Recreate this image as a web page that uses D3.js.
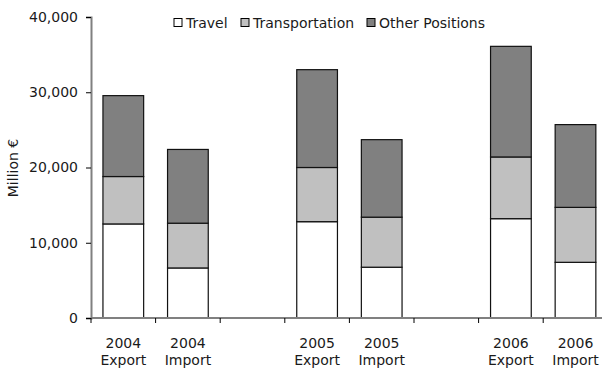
<!DOCTYPE html>
<html>
<head>
<meta charset="utf-8">
<script src="https://cdnjs.cloudflare.com/ajax/libs/d3/7.8.5/d3.min.js"></script>
<style>
  html, body { margin: 0; padding: 0; background: #fff; }
  svg { display: block; }
  text { font-family: "DejaVu Sans", sans-serif; fill: #1a1a1a; }
</style>
</head>
<body>
<svg id="chart" width="602" height="369"></svg>
<script>
// Category slots along the x axis (empty slots separate the years)
const categories = ["2004|Export", "2004|Import", "gap1", "2005|Export", "2005|Import", "gap2", "2006|Export", "2006|Import"];
// Services trade, million euro, per component
const travel         = [12500, 6650, null, 12800, 6750, null, 13200, 7400];
const transportation = [6300, 5950, null, 7200, 6650, null, 8200, 7300];
const otherPositions = [10750, 9800, null, 13000, 10300, null, 14700, 11000];
const seriesNames  = ["Travel", "Transportation", "Other Positions"];
const seriesColors = ["#ffffff", "#c0c0c0", "#808080"];
const yTicks = [0, 10000, 20000, 30000, 40000];

const svg = d3.select("#chart");
const margin = { left: 91, top: 17, bottom: 318 };
const step = 64.6;
const fs = "14px";

const x = d3.scaleBand()
  .domain(categories)
  .range([margin.left, margin.left + step * categories.length])
  .padding(0);
const barW = step * 0.63;

const y = d3.scaleLinear().domain([0, 40000]).range([margin.bottom, margin.top]);

// Stack the three components for each non-empty slot
const rows = categories.map((c, i) => ({
  key: c,
  "Travel": travel[i] || 0,
  "Transportation": transportation[i] || 0,
  "Other Positions": otherPositions[i] || 0,
  empty: travel[i] == null
}));
const stacked = d3.stack().keys(seriesNames)(rows);

const barsG = svg.append("g");
stacked.forEach((layer, li) => {
  barsG.selectAll(null)
    .data(layer.filter(d => !d.data.empty))
    .join("rect")
    .attr("x", d => x(d.data.key) + (step - barW) / 2)
    .attr("y", d => y(d[1]))
    .attr("width", barW)
    .attr("height", d => y(d[0]) - y(d[1]))
    .attr("fill", seriesColors[li])
    .attr("stroke", "#111")
    .attr("stroke-width", 1.2);
});

// Y axis
const yAxis = svg.append("g")
  .attr("transform", `translate(${margin.left},0)`)
  .call(d3.axisLeft(y).tickValues(yTicks).tickSize(5).tickPadding(8).tickFormat(d3.format(",")));
yAxis.select(".domain").attr("stroke", "#808080").attr("stroke-width", 2);
yAxis.selectAll(".tick line").attr("stroke", "#000");
yAxis.selectAll(".tick text").style("font-size", fs).attr("fill", "#1a1a1a");

// X axis: ticks on slot boundaries, labels centred in slots
const xAxisG = svg.append("g").attr("transform", `translate(0,${margin.bottom})`);
xAxisG.append("line")
  .attr("x1", margin.left).attr("x2", margin.left + step * categories.length)
  .attr("stroke", "#808080").attr("stroke-width", 2);
xAxisG.selectAll(".xt")
  .data(categories)
  .join("line")
  .attr("x1", d => x(d)).attr("x2", d => x(d))
  .attr("y1", 0).attr("y2", 5)
  .attr("stroke", "#000");
const xl = xAxisG.selectAll(".xl")
  .data(categories.filter(c => c.includes("|")))
  .join("text")
  .attr("text-anchor", "middle")
  .style("font-size", fs)
  .attr("transform", d => `translate(${x(d) + step / 2},0)`);
xl.append("tspan").attr("x", 0).attr("y", 29.5).text(d => d.split("|")[0]);
xl.append("tspan").attr("x", 0).attr("y", 47).text(d => d.split("|")[1]);

// Y axis title
svg.append("text")
  .attr("transform", `translate(18,168) rotate(-90)`)
  .attr("text-anchor", "middle")
  .style("font-size", fs)
  .text("Million €");

// Legend
const legendX = [174, 241, 367];
const lg = svg.append("g");
seriesNames.forEach((name, i) => {
  lg.append("rect")
    .attr("x", legendX[i]).attr("y", 18.5)
    .attr("width", 8).attr("height", 8)
    .attr("fill", seriesColors[i]).attr("stroke", "#000");
  lg.append("text")
    .attr("x", legendX[i] + 12).attr("y", 27.5)
    .style("font-size", fs)
    .text(name);
});
</script>
</body>
</html>
